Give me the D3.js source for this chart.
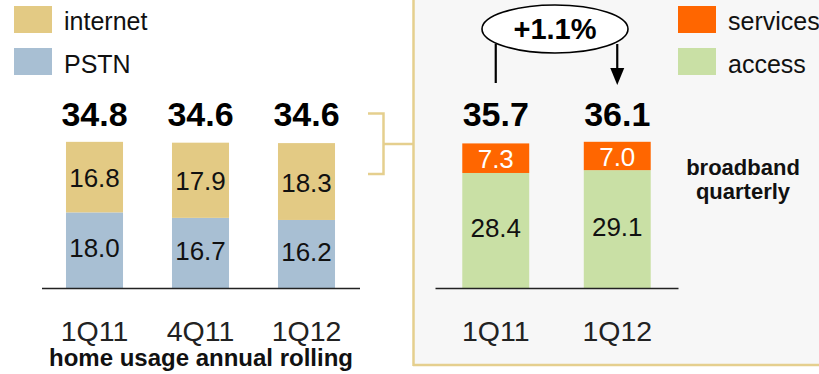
<!DOCTYPE html>
<html>
<head>
<meta charset="utf-8">
<script src="https://cdn.jsdelivr.net/npm/d3@7"></script>
<style>
  html, body { margin: 0; padding: 0; background: #fff; }
  svg { display: block; font-family: "Liberation Sans", Arial, Helvetica, sans-serif; }
</style>
</head>
<body>
<svg id="chart" width="819" height="374"></svg>
<script>
// Home usage, annual rolling
const homeCategories = ["1Q11", "4Q11", "1Q12"];
const homePstn = [18.0, 16.7, 16.2];
const homeInternet = [16.8, 17.9, 18.3];
const homeTotals = [34.8, 34.6, 34.6];

// Broadband, quarterly
const bbCategories = ["1Q11", "1Q12"];
const bbAccess = [28.4, 29.1];
const bbServices = [7.3, 7.0];
const bbTotals = [35.7, 36.1];
const bbGrowth = "+1.1%";

const colors = {
  pstn: "#a8bfd3",
  internet: "#e3ca84",
  access: "#c9e0a5",
  services: "#ff6600",
  frame: "#e5cf8e",
  panel: "#f7f7f7"
};

const svg = d3.select("#chart");
const baseY = 288;

// ---- right panel background and frame ----
svg.append("rect").attr("x", 413).attr("y", -2).attr("width", 420).attr("height", 366)
  .attr("fill", colors.panel);
svg.append("line").attr("x1", 413.5).attr("x2", 413.5).attr("y1", 0).attr("y2", 366)
  .attr("stroke", colors.frame).attr("stroke-width", 2.5);
svg.append("line").attr("x1", 413).attr("x2", 819).attr("y1", 365).attr("y2", 365)
  .attr("stroke", colors.frame).attr("stroke-width", 2.5);

// bracket linking the internet segments to the broadband panel
svg.append("path")
  .attr("d", "M368,113.5 H383.5 V174 H368 M383.5,144 H413")
  .attr("fill", "none").attr("stroke", colors.frame).attr("stroke-width", 2.5);

// ---- legends ----
function legend(x, y, items) {
  const g = svg.append("g").attr("transform", `translate(${x},${y})`);
  items.forEach((it, i) => {
    g.append("rect").attr("x", 0).attr("y", i * 42).attr("width", 38).attr("height", 27)
      .attr("fill", it.color);
    g.append("text").attr("x", 50).attr("y", i * 43 + 24)
      .attr("font-size", 25).attr("fill", "#111").text(it.label);
  });
}
legend(14, 6, [{ label: "internet", color: colors.internet }, { label: "PSTN", color: colors.pstn }]);
legend(678, 6, [{ label: "services", color: colors.services }, { label: "access", color: colors.access }]);

// ---- generic stacked bar drawing ----
function stackedBars(opts) {
  const x = d3.scaleBand().domain(opts.categories).range(opts.range)
    .paddingInner(opts.padInner).paddingOuter(opts.padInner / 2);
  const y = d3.scaleLinear().domain([0, 40]).range([baseY, baseY - 40 * opts.pxPerUnit]);

  const rows = opts.categories.map((c, i) => ({ cat: c, lower: opts.lower[i], upper: opts.upper[i], total: opts.totals[i] }));
  const g = svg.append("g");

  const bars = g.selectAll("g.bar").data(rows).join("g").attr("class", "bar");
  bars.append("rect")
    .attr("x", d => x(d.cat)).attr("width", x.bandwidth())
    .attr("y", d => y(d.lower)).attr("height", d => y(0) - y(d.lower))
    .attr("fill", opts.lowerColor);
  bars.append("rect")
    .attr("x", d => x(d.cat)).attr("width", x.bandwidth())
    .attr("y", d => y(d.lower + d.upper)).attr("height", d => y(d.lower) - y(d.lower + d.upper))
    .attr("fill", opts.upperColor);

  const cx = d => x(d.cat) + x.bandwidth() / 2;
  bars.append("text").attr("x", cx).attr("y", d => (y(0) + y(d.lower)) / 2 + 7)
    .attr("text-anchor", "middle").attr("font-size", 26).attr("fill", "#111")
    .text(d => d.lower.toFixed(1));
  bars.append("text").attr("x", cx).attr("y", d => (y(d.lower) + y(d.lower + d.upper)) / 2 + 10)
    .attr("text-anchor", "middle").attr("font-size", 26).attr("fill", opts.upperText)
    .text(d => d.upper.toFixed(1));
  bars.append("text").attr("x", cx).attr("y", 126)
    .attr("text-anchor", "middle").attr("font-size", 34).attr("font-weight", "bold").attr("fill", "#000")
    .text(d => d.total.toFixed(1));

  const axis = g.append("g").attr("transform", `translate(0,${baseY})`)
    .call(d3.axisBottom(x).tickSize(0).tickSizeOuter(0));
  axis.select(".domain").attr("stroke", "#222").attr("stroke-width", 1.6);
  axis.selectAll("text").attr("font-size", 28.5).attr("font-family", null)
    .attr("fill", "#222").attr("y", 53).attr("dy", 0);
  return { x, y };
}

stackedBars({
  categories: homeCategories, lower: homePstn, upper: homeInternet, totals: homeTotals,
  range: [41.5, 359.5], padInner: 0.462, pxPerUnit: 4.2,
  lowerColor: colors.pstn, upperColor: colors.internet, upperText: "#111"
});

const bb = stackedBars({
  categories: bbCategories, lower: bbAccess, upper: bbServices, totals: bbTotals,
  range: [435, 678], padInner: 0.449, pxPerUnit: 4.05,
  lowerColor: colors.access, upperColor: colors.services, upperText: "#fff"
});

// ---- growth callout ----
const ax = bb.x(bbCategories[0]) + bb.x.bandwidth() / 2;
const bx = bb.x(bbCategories[1]) + bb.x.bandwidth() / 2;
svg.append("line").attr("x1", ax).attr("x2", ax).attr("y1", 44).attr("y2", 83)
  .attr("stroke", "#000").attr("stroke-width", 2.2);
svg.append("line").attr("x1", bx).attr("x2", bx).attr("y1", 44).attr("y2", 72)
  .attr("stroke", "#000").attr("stroke-width", 2.2);
svg.append("path").attr("d", `M${bx - 7},68 L${bx + 7},68 L${bx},85 Z`).attr("fill", "#000");
svg.append("ellipse").attr("cx", 555).attr("cy", 29).attr("rx", 73).attr("ry", 24)
  .attr("fill", "#fff").attr("stroke", "#000").attr("stroke-width", 1.6);
svg.append("text").attr("x", 555).attr("y", 39).attr("text-anchor", "middle")
  .attr("font-size", 29).attr("font-weight", "bold").attr("fill", "#000").text(bbGrowth);

// ---- captions ----
svg.append("text").attr("x", 743).attr("y", 175).attr("text-anchor", "middle")
  .attr("font-size", 22).attr("font-weight", "bold").attr("fill", "#111").text("broadband");
svg.append("text").attr("x", 743).attr("y", 199).attr("text-anchor", "middle")
  .attr("font-size", 22).attr("font-weight", "bold").attr("fill", "#111").text("quarterly");
svg.append("text").attr("x", 201).attr("y", 366).attr("text-anchor", "middle")
  .attr("font-size", 24).attr("font-weight", "bold").attr("fill", "#111").text("home usage annual rolling");
</script>
</body>
</html>
